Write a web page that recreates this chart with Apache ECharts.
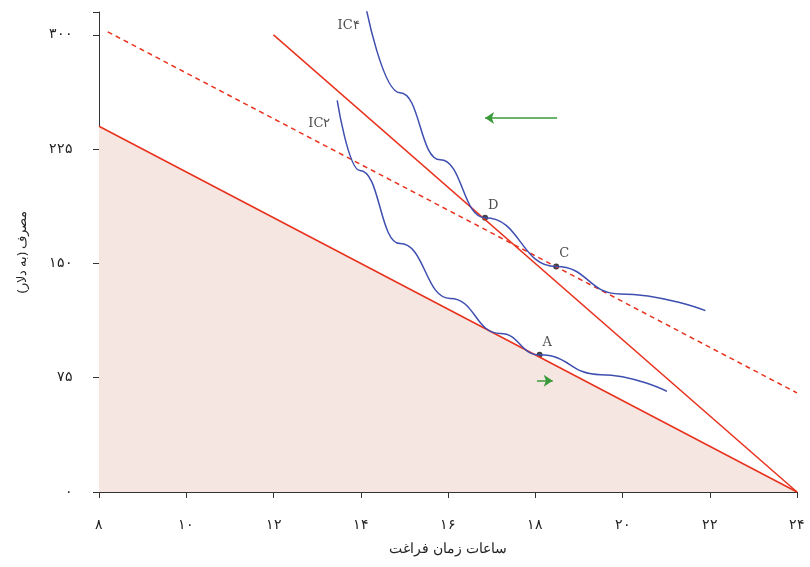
<!DOCTYPE html>
<html lang="fa">
<head>
<meta charset="UTF-8">
<title>اثر جانشینی و اثر درآمدی</title>
<script src="https://cdn.jsdelivr.net/npm/echarts@6/dist/echarts.min.js"></script>
<style>
  *{margin:0;}
  #main{width:810px;height:567px;}
</style>
</head>
<body>
<div id="main"></div>
<script>
// داده‌ها
var xTicks = ['۸','۱۰','۱۲','۱۴','۱۶','۱۸','۲۰','۲۲','۲۴'];
var yTicks = {0:'۰',75:'۷۵',150:'۱۵۰',225:'۲۲۵',300:'۳۰۰'};
var budgetA = [[8,240],[24,0]];
var budgetD = [[12,300],[24,0]];
var budgetC = [[8.2,302],[24,65]];
var ic2 = [[13.46,257],[13.98,211],[14.9,163],[16.05,127],[17.2,104],[18.1,90],[19.5,77],[21.02,66]];
var ic4 = [[14.12,318],[14.9,262],[15.82,218],[16.85,180],[18.48,148],[19.94,130],[21.9,119]];
var points = [['A',18.1,90],['D',16.85,180],['C',18.48,148]];
var subArrow = [[18.5,245.5],[16.85,245.5]];
var incArrow = [[18.04,73],[18.4,73]];

var red = '#e8321e', blue = '#3f4fb0', green = '#3a9a3a';
var font = 'DejaVu Serif';

var chart = echarts.init(document.getElementById('main'));
chart.setOption({
  animation:false,
  grid:{left:99,right:13,top:12,bottom:75},
  xAxis:{type:'value',min:8,max:24,interval:2,
    axisLine:{lineStyle:{color:'#333'}},axisTick:{length:6,lineStyle:{color:'#333'}},
    splitLine:{show:false},
    axisLabel:{margin:26,fontSize:14,color:'#222',fontFamily:font,
      formatter:function(v){return xTicks[(v-8)/2];}},
    name:'ساعات زمان فراغت',nameLocation:'middle',nameGap:50,
    nameTextStyle:{fontSize:14,color:'#222',fontFamily:'Noto Sans'}},
  yAxis:{type:'value',min:0,max:315,interval:75,
    axisLine:{show:true,lineStyle:{color:'#333'}},axisTick:{show:true,length:6,lineStyle:{color:'#333'}},
    splitLine:{show:false},
    axisLabel:{margin:26,fontSize:14,color:'#222',fontFamily:font,
      formatter:function(v){return yTicks[v]||'';}},
    name:'مصرف (به دلار)',nameLocation:'middle',nameGap:70,
    nameTextStyle:{fontSize:13,color:'#222',fontFamily:'Noto Sans'}},
  series:[
    {type:'line',data:budgetA,symbol:'none',lineStyle:{color:red,width:1.5},
      areaStyle:{color:'#f6e6e1',opacity:1}},
    {type:'line',data:budgetD,symbol:'none',lineStyle:{color:red,width:1.5}},
    {type:'line',data:budgetC,symbol:'none',lineStyle:{color:red,width:1.5,type:[5,4]}},
    {type:'line',data:ic2,symbol:'none',smooth:true,smoothMonotone:'x',lineStyle:{color:blue,width:1.5}},
    {type:'line',data:ic4,symbol:'none',smooth:true,smoothMonotone:'x',lineStyle:{color:blue,width:1.5}},
    {type:'scatter',symbolSize:6,itemStyle:{color:'#111'},
      data:points.map(function(p){return {name:p[0],value:[p[1],p[2]]};}),
      label:{show:true,formatter:'{b}',fontFamily:font,fontSize:13,color:'#222',
        position:[6,-16]}},
    {type:'scatter',symbolSize:0,
      data:[{value:[13.05,242],label:{formatter:'IC۲'}},{value:[13.72,306],label:{formatter:'IC۴'}}],
      label:{show:true,position:'inside',fontFamily:font,fontSize:13,color:'#222'}},
    {type:'scatter',symbolSize:1,itemStyle:{opacity:0},
      data:[{value:[17.5,257],label:{formatter:'اثر جانشینی'}}],
      label:{show:true,position:'inside',fontFamily:'Noto Sans',fontSize:11,color:'#222'}},
    {type:'scatter',symbolSize:1,itemStyle:{opacity:0},
      data:[{value:[18.45,53],label:{formatter:'اثر درآمدی'}}],
      label:{show:true,position:'inside',fontFamily:'Noto Sans',fontSize:11,color:'#222'}},
    {type:'line',data:[],markLine:{silent:true,symbol:['none','arrow'],symbolSize:9,
      label:{show:false},lineStyle:{color:green,width:1.5,type:'solid'},
      data:[[{coord:subArrow[0]},{coord:subArrow[1]}],[{coord:incArrow[0]},{coord:incArrow[1]}]]}}
  ]
});
</script>
</body>
</html>
